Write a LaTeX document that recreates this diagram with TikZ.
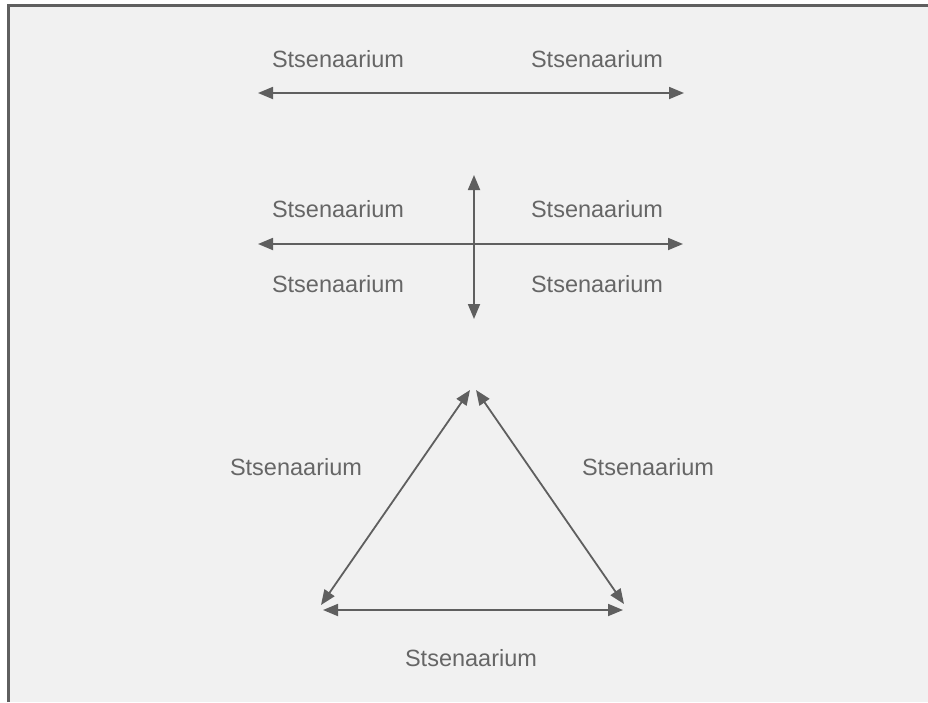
\documentclass[tikz,border=0pt]{standalone}
\usepackage{fontspec}
\setmainfont{Liberation Sans}
\usetikzlibrary{arrows.meta}
\definecolor{ink}{HTML}{5F5F5F}
\definecolor{txt}{HTML}{666666}
\definecolor{bg}{HTML}{F1F1F1}
\tikzset{
  dbl/.style={draw=ink, line width=1.8pt, {Triangle[length=15pt,width=12pt]}-{Triangle[length=15pt,width=12pt]}},
  lbl/.style={text=txt, font=\fontsize{23.5}{28}\selectfont, inner sep=0pt}
}
\begin{document}
\begin{tikzpicture}[x=1pt,y=-1pt]
\useasboundingbox (0,0) rectangle (928,702);
\fill[white] (0,0) rectangle (928,702);
\fill[bg] (8,5) rectangle (928,702);
\draw[ink, line width=3pt] (8,702) -- (8,5) -- (928,5);
% top
\coordinate (a1) at (258,93);
\coordinate (a2) at (684,93);
\draw[dbl] (a1) -- (a2);
\node[lbl] (t1) at (338,59) {Stsenaarium};
\node[lbl] (t2) at (597,59) {Stsenaarium};
% cross
\coordinate (h1) at (258,244);
\coordinate (h2) at (683,244);
\coordinate (v1) at (474,175);
\coordinate (v2) at (474,319);
\draw[dbl] (h1) -- (h2);
\draw[dbl] (v1) -- (v2);
\node[lbl] (c1) at (338,209) {Stsenaarium};
\node[lbl] (c2) at (597,209) {Stsenaarium};
\node[lbl] (c3) at (338,284) {Stsenaarium};
\node[lbl] (c4) at (597,284) {Stsenaarium};
% triangle
\coordinate (l1) at (321,605);
\coordinate (l2) at (470,390);
\coordinate (r1) at (476,390);
\coordinate (r2) at (624,604);
\coordinate (b1) at (323,610);
\coordinate (b2) at (623,610);
\draw[dbl] (l1) -- (l2);
\draw[dbl] (r1) -- (r2);
\draw[dbl] (b1) -- (b2);
\node[lbl] (s1) at (296,467) {Stsenaarium};
\node[lbl] (s2) at (648,467) {Stsenaarium};
\node[lbl] (s3) at (471,658) {Stsenaarium};
\end{tikzpicture}
\end{document}
